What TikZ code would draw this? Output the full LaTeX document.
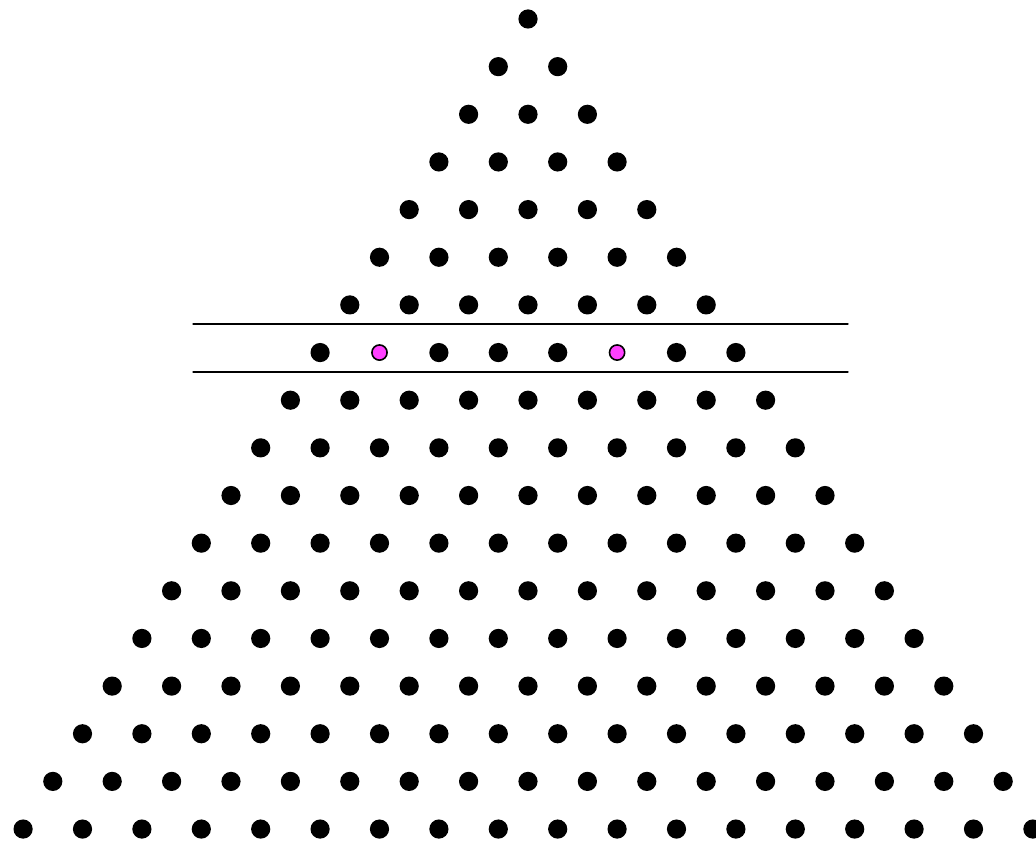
\documentclass[tikz,border=0pt]{standalone}
\definecolor{dotpink}{RGB}{255,64,255}
\begin{document}
\begin{tikzpicture}[x=1pt, y=-1pt, line cap=round, line join=round]
    % 参数：点距与点的半径
    \def\dx{59.4}
    \def\dy{47.65}
    \def\cx{528}
    \def\rad{9.6}

    \useasboundingbox (0,0) rectangle (1036,842);

    % 三角点阵（第 8 行的两个点另画）
    \foreach \i in {0,...,17} {
        \foreach \k in {0,...,\i} {
            \pgfmathtruncatemacro\pink{(\i==7)&&((\k==1)||(\k==5))}
            \ifnum\pink=0
                \fill (\cx+\k*\dx-\i*\dx/2, 19+\i*\dy) circle (\rad);
            \fi
        }
    }

    % 两条水平线
    \draw[line width=1.3pt] (193,324) -- (848,324);
    \draw[line width=1.3pt] (193,372) -- (848,372);

    % 第 8 行中的两个彩色点
    \foreach \k in {1,5}
        \filldraw[fill=dotpink, draw=black, line width=1.6pt]
            (\cx+\k*\dx-7*\dx/2, 19+7*\dy) circle (7.6);
\end{tikzpicture}
\end{document}
